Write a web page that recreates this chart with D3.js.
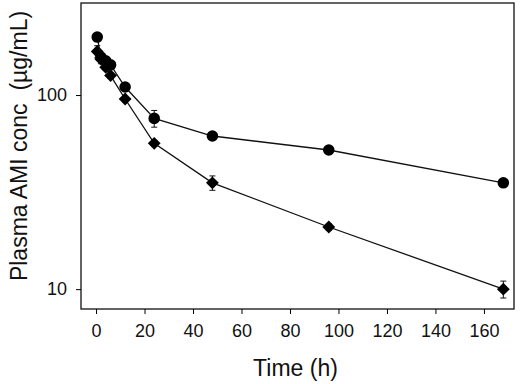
<!DOCTYPE html>
<html>
  <head>
    <script type="text/javascript" src="https://cdn.jsdelivr.net/npm/d3@7"></script>
    <style type="text/css">
      body { margin: 0; background: #ffffff; }
      text { font-family: "Liberation Sans", Arial, sans-serif; fill: #111; }
    </style>
  </head>
  <body>
    <script type="text/javascript">

      // sampling times (h)
      var times = [0.5, 2, 4, 6, 12, 24, 48, 96, 168];
      // group 1 (circles), mean plasma AMI conc and error
      var circleMean = [199, 157, 150, 143, 110, 75.8, 61.5, 52.1, 35.3];
      var circleErr = [4, 4, 4, 4, 4, 7.5, 2.5, 2, 1.2];
      // group 2 (diamonds)
      var diamondMean = [167.6, 153, 139, 126, 95.4, 56.4, 35.3, 20.9, 10.0];
      var diamondErr = [12, 8, 5, 4, 3, 2, 3, 0.8, 1];
      // axis ticks
      var xTicks = [0, 20, 40, 60, 80, 100, 120, 140, 160];
      var yTicks = [10, 100];

      var width = 520;
      var height = 384;

      // plot frame
      var pad = { left: 81, right: 6, top: 3, bottom: 75 };

      var svg = d3.select("body")
                  .append("svg")
                  .attr("width", width)
                  .attr("height", height);

      var xScale = d3.scaleLinear()
                     .domain([-6.2, 172.4])
                     .range([pad.left, width - pad.right]);
      var yScale = d3.scaleLog()
                     .domain([7.9, 298])
                     .range([height - pad.bottom, pad.top]);

      // builds [t, mean, err] rows for each group
      var circles = times.map(function(t, i){
        return [t, circleMean[i], circleErr[i]];
      });
      var diamonds = times.map(function(t, i){
        return [t, diamondMean[i], diamondErr[i]];
      });

      var line = d3.line()
                   .x(function(d){ return xScale(d[0]); })
                   .y(function(d){ return yScale(d[1]); });

      // draws one series: line, error bars, markers
      var drawSeries = function(data, symbolType, size){
        var g = svg.append("g");
        g.append("path")
         .datum(data)
         .attr("d", line)
         .attr("fill", "none")
         .attr("stroke", "#111")
         .attr("stroke-width", 1.3);

        var bars = g.selectAll(".err")
                    .data(data)
                    .enter()
                    .append("g");
        bars.append("line")
            .attr("x1", function(d){ return xScale(d[0]); })
            .attr("x2", function(d){ return xScale(d[0]); })
            .attr("y1", function(d){ return yScale(d[1] + d[2]); })
            .attr("y2", function(d){ return yScale(d[1] - d[2]); })
            .attr("stroke", "#111")
            .attr("stroke-width", 1);
        // caps
        [1, -1].forEach(function(s){
          bars.append("line")
              .attr("x1", function(d){ return xScale(d[0]) - 3; })
              .attr("x2", function(d){ return xScale(d[0]) + 3; })
              .attr("y1", function(d){ return yScale(d[1] + s * d[2]); })
              .attr("y2", function(d){ return yScale(d[1] + s * d[2]); })
              .attr("stroke", "#111")
              .attr("stroke-width", 1);
        });

        g.selectAll(".mark")
         .data(data)
         .enter()
         .append("path")
         .attr("d", d3.symbol().type(symbolType).size(size))
         .attr("transform", function(d){
            return "translate(" + xScale(d[0]) + "," + yScale(d[1]) + ")";
         })
         .attr("fill", "#000");
      };

      drawSeries(diamonds, d3.symbolDiamond2, 105);
      drawSeries(circles, d3.symbolCircle, 105);

      // frame
      svg.append("rect")
         .attr("x", pad.left)
         .attr("y", pad.top)
         .attr("width", width - pad.left - pad.right)
         .attr("height", height - pad.top - pad.bottom)
         .attr("fill", "none")
         .attr("stroke", "#222")
         .attr("stroke-width", 1.4);

      // x axis
      var xAxis = d3.axisBottom(xScale)
                    .tickValues(xTicks)
                    .tickSize(5)
                    .tickPadding(10)
                    .tickFormat(d3.format("d"));
      var gx = svg.append("g")
                  .attr("transform", "translate(0," + (height - pad.bottom) + ")")
                  .call(xAxis);
      gx.select(".domain").remove();
      gx.selectAll("text")
        .style("font-size", "18px")
        .style("font-family", "Liberation Sans, Arial, sans-serif");

      // y axis
      var yAxis = d3.axisLeft(yScale)
                    .tickValues(yTicks)
                    .tickSize(5)
                    .tickPadding(9)
                    .tickFormat(d3.format("d"));
      var gy = svg.append("g")
                  .attr("transform", "translate(" + pad.left + ",0)")
                  .call(yAxis);
      gy.select(".domain").remove();
      gy.selectAll("text")
        .style("font-size", "18px")
        .style("font-family", "Liberation Sans, Arial, sans-serif");

      // axis titles
      svg.append("text")
         .attr("x", (pad.left + width - pad.right) / 2 - 2)
         .attr("y", 376)
         .style("text-anchor", "middle")
         .style("font-size", "23px")
         .text("Time (h)");

      svg.append("text")
         .attr("transform", "translate(27,146) rotate(-90)")
         .style("text-anchor", "middle")
         .style("font-size", "23px")
         .style("white-space", "pre")
         .text("Plasma AMI conc  (\u00b5g/mL)");
    </script>
  </body>
</html>
